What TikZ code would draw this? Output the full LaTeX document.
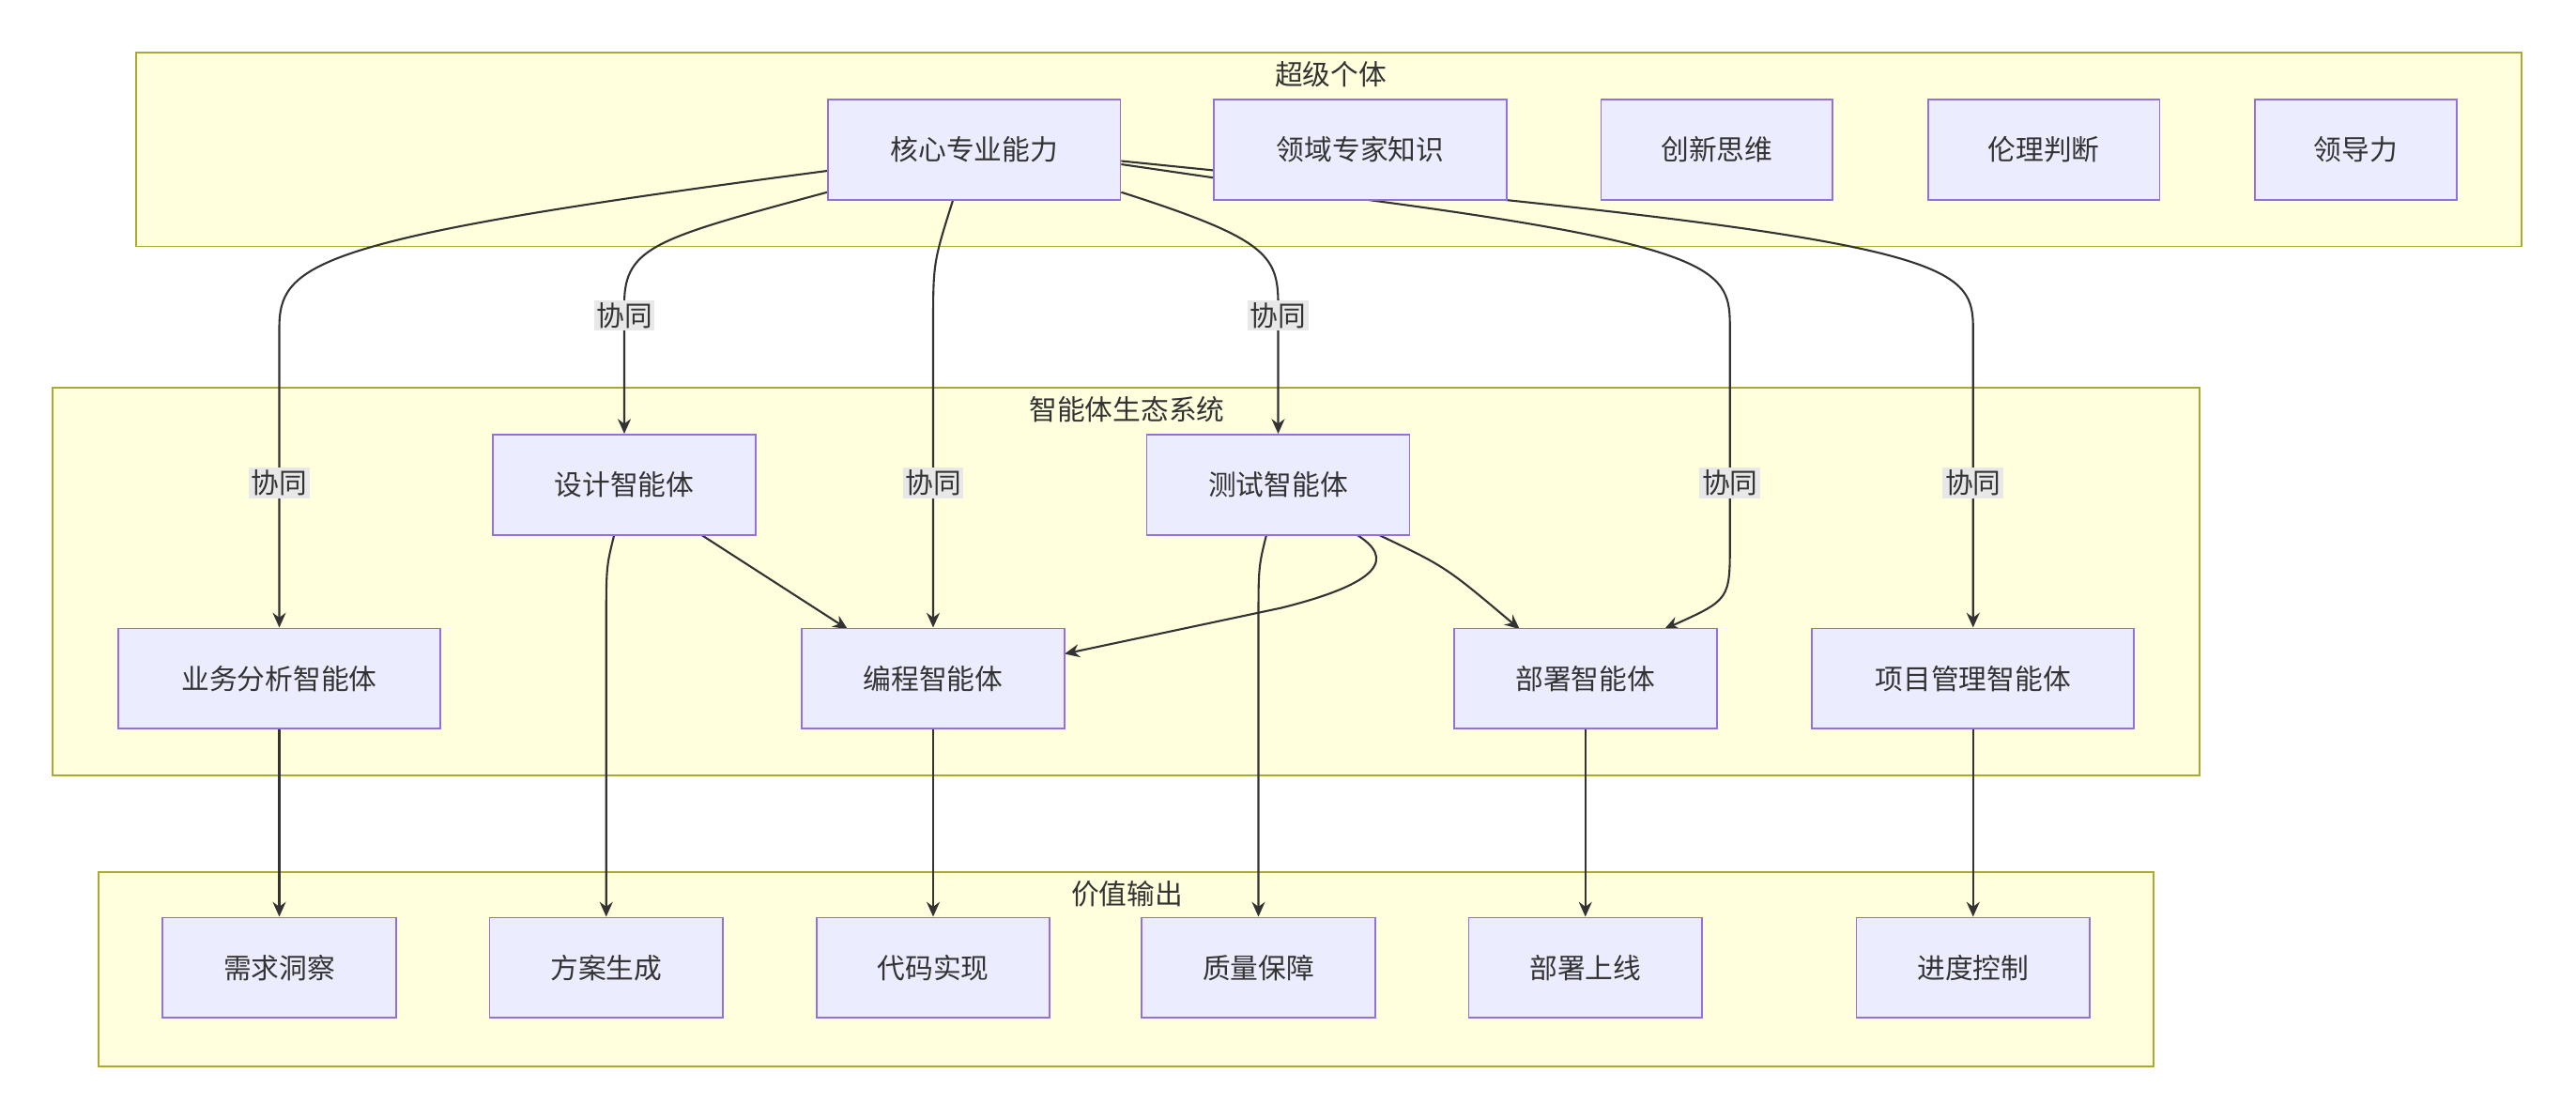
\documentclass[tikz,border=0pt]{standalone}
\usepackage{fontspec}
\setmainfont{Noto Sans CJK SC}
\usetikzlibrary{arrows.meta}
\definecolor{cf}{HTML}{FFFFDE}\definecolor{cs}{HTML}{AAAA33}
\definecolor{nf}{HTML}{ECECFF}\definecolor{ns}{HTML}{9370DB}
\definecolor{ec}{HTML}{333333}\definecolor{lb}{HTML}{E8E8E8}
\pgfdeclarelayer{bg}\pgfdeclarelayer{edges}
\pgfsetlayers{bg,edges,main}
\begin{document}
\begin{tikzpicture}[x=1pt,y=-1pt,
 font=\fontsize{17}{20}\selectfont,
 clus/.style={draw=cs,fill=cf,line width=1pt},
 cl/.style={text=ec},
 box/.style={draw=ns,fill=nf,line width=1pt,minimum height=61pt,inner sep=0pt,text=ec},
 e/.style={draw=ec,line width=1.2pt,-{Stealth[length=9pt,width=8pt]}},
 lab/.style={fill=lb,inner sep=1.5pt,text=ec}]
\useasboundingbox (0,0) rectangle (1568,681);
\begin{pgfonlayer}{bg}
\fill[white] (0,0) rectangle (1568,681);
\draw[clus] (83,32) rectangle (1535,150);
\draw[clus] (32,236) rectangle (1339,472);
\draw[clus] (60,531) rectangle (1311,649);
\end{pgfonlayer}
\node[cl] (c1) at (810,45) {超级个体};
\node[cl] (c2) at (686,249) {智能体生态系统};
\node[cl] (c3) at (686,544) {价值输出};
\node[box,minimum width=178pt] (hx) at (593,91) {核心专业能力};
\node[box,minimum width=178pt] (ly) at (828,91) {领域专家知识};
\node[box,minimum width=141pt] (cx) at (1045,91) {创新思维};
\node[box,minimum width=141pt] (ll) at (1244,91) {伦理判断};
\node[box,minimum width=123pt] (ld) at (1434,91) {领导力};
\node[box,minimum width=160pt] (sj) at (380,295) {设计智能体};
\node[box,minimum width=160pt] (cs) at (778,295) {测试智能体};
\node[box,minimum width=196pt] (yw) at (170,413) {业务分析智能体};
\node[box,minimum width=160pt] (bc) at (568,413) {编程智能体};
\node[box,minimum width=160pt] (bs) at (965,413) {部署智能体};
\node[box,minimum width=196pt] (xm) at (1201,413) {项目管理智能体};
\node[box,minimum width=142pt] (o1) at (170,589) {需求洞察};
\node[box,minimum width=142pt] (o2) at (369,589) {方案生成};
\node[box,minimum width=142pt] (o3) at (568,589) {代码实现};
\node[box,minimum width=142pt] (o4) at (766,589) {质量保障};
\node[box,minimum width=142pt] (o5) at (965,589) {部署上线};
\node[box,minimum width=142pt] (o6) at (1201,589) {进度控制};
\begin{pgfonlayer}{edges}
\draw[e] (hx.west|-0,104) .. controls (190,145) and (170,160) .. (170,200) -- (yw.north);
\draw[e] (hx.west|-0,117) .. controls (400,145) and (380,150) .. (380,185) -- (sj.north);
\draw[e] (580,122) .. controls (568,160) .. (568,200) -- (bc.north);
\draw[e] (hx.east|-0,117) .. controls (770,145) and (778,155) .. (778,185) -- (cs.north);
\draw[e] (hx.east|-0,100) -- (820,120) .. controls (1050,150) and (1053,165) .. (1053,200) -- (1053,330) .. controls (1053,365) .. (1013,383);
\draw[e] (hx.east|-0,98) -- (900,120) .. controls (1190,150) and (1201,165) .. (1201,200) -- (xm.north);
\draw[e] (426,325) -- (516,383);
\draw[e] (825,325) .. controls (850,340) and (840,355) .. (780,370) -- (648,398);
\draw[e] (838,325) .. controls (880,345) .. (925,383);
\draw[e] (374,325) .. controls (369,345) .. (369,380) -- (o2.north);
\draw[e] (771,325) .. controls (766,345) .. (766,380) -- (o4.north);
\draw[e] (yw) -- (o1);
\draw[e] (bc) -- (o3);
\draw[e] (bs) -- (o5);
\draw[e] (xm) -- (o6);
\end{pgfonlayer}
\node[lab] (l1) at (170,294) {协同};
\node[lab] (l2) at (380,192) {协同};
\node[lab] (l3) at (568,294) {协同};
\node[lab] (l4) at (778,192) {协同};
\node[lab] (l5) at (1053,294) {协同};
\node[lab] (l6) at (1201,294) {协同};
\end{tikzpicture}
\end{document}
